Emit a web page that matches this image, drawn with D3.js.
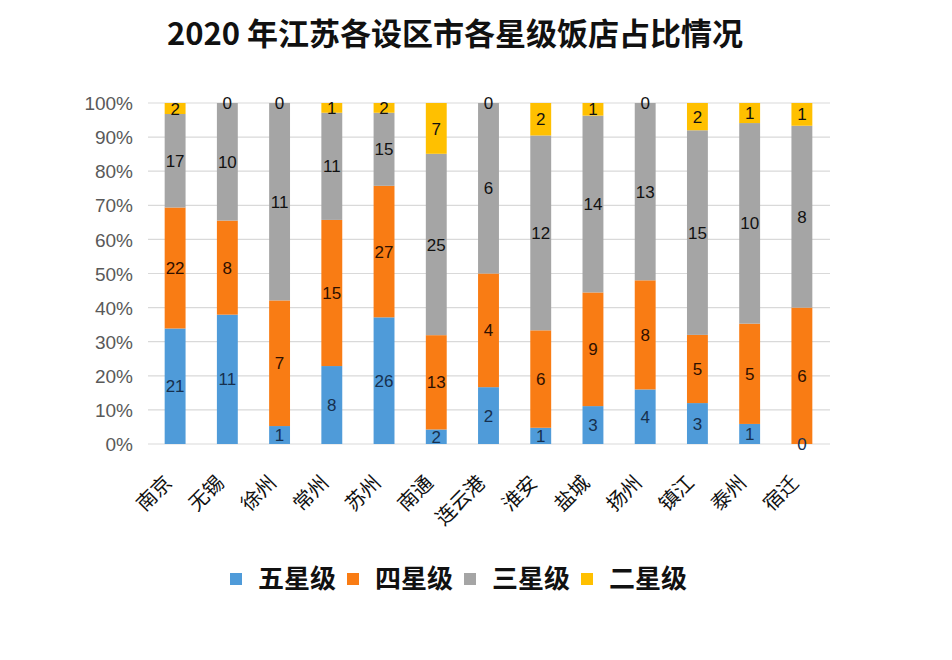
<!DOCTYPE html>
<html><head><meta charset="utf-8">
<script src="https://cdn.jsdelivr.net/npm/d3@7"></script>
<style>
html,body{margin:0;padding:0;background:#fff;}
svg{display:block;}
</style></head>
<body>
<svg id="chart" width="952" height="660"></svg>
<script>
const title = "2020 年江苏各设区市各星级饭店占比情况";
const cities = ["南京","无锡","徐州","常州","苏州","南通","连云港","淮安","盐城","扬州","镇江","泰州","宿迁"];
const seriesNames = ["五星级","四星级","三星级","二星级"];
const fiveStar  = [21,11,1,8,26,2,2,1,3,4,3,1,0];
const fourStar  = [22,8,7,15,27,13,4,6,9,8,5,5,6];
const threeStar = [17,10,11,11,15,25,6,12,14,13,15,10,8];
const twoStar   = [2,0,0,1,2,7,0,2,1,0,2,1,1];
const yTicks = [0,0.1,0.2,0.3,0.4,0.5,0.6,0.7,0.8,0.9,1.0];
const colors = ["#4F9BD9","#F97C14","#A5A5A5","#FFC000"];
const labelColors = ["#16304f","#2e1000","#111111","#111111"];

const seriesValues = [fiveStar, fourStar, threeStar, twoStar];
const svg = d3.select("#chart");

const x = d3.scaleBand().domain(cities).range([149, 828]).paddingInner(0.6).paddingOuter(0.3);
const y = d3.scaleLinear().domain([0, 1]).range([444, 103]);

// title
svg.append("text").attr("x", 455).attr("y", 45).attr("text-anchor", "middle")
  .attr("font-family", "'Noto Sans CJK SC', sans-serif").attr("font-weight", "bold")
  .attr("font-size", 31).attr("fill", "#111").text(title);

// gridlines
svg.append("g").selectAll("line").data(yTicks).join("line")
  .attr("x1", 148).attr("x2", 830)
  .attr("y1", d => y(d)).attr("y2", d => y(d))
  .attr("stroke", "#d9d9d9").attr("stroke-width", 1.2);

// y axis labels
const yAxis = d3.axisLeft(y).tickValues(yTicks).tickFormat(d => Math.round(d * 100) + "%").tickSize(0).tickPadding(0);
const yg = svg.append("g").attr("transform", "translate(133,0)").call(yAxis);
yg.select(".domain").remove();
yg.selectAll("text").attr("font-family", "'Liberation Sans', Arial, sans-serif")
  .attr("font-size", 19).attr("fill", "#595959").attr("dy", "0.35em");

// stacked data
const table = cities.map((c, i) => {
  const total = seriesValues.reduce((s, arr) => s + arr[i], 0);
  const row = {city: c};
  seriesNames.forEach((n, k) => { row[n] = seriesValues[k][i] / total; row[n + "_v"] = seriesValues[k][i]; });
  return row;
});
const stack = d3.stack().keys(seriesNames);
const stacked = stack(table);

const groups = svg.append("g").selectAll("g").data(stacked).join("g")
  .attr("fill", (d, k) => colors[k]);
groups.selectAll("rect").data(d => d).join("rect")
  .attr("x", d => x(d.data.city)).attr("width", x.bandwidth())
  .attr("y", d => y(d[1])).attr("height", d => y(d[0]) - y(d[1]));

// value labels
stacked.forEach((layer, k) => {
  svg.append("g").selectAll("text").data(layer).join("text")
    .attr("x", d => x(d.data.city) + x.bandwidth() / 2)
    .attr("y", d => y((d[0] + d[1]) / 2))
    .attr("dy", "0.36em").attr("text-anchor", "middle")
    .attr("font-family", "'Liberation Sans', Arial, sans-serif").attr("font-size", 17)
    .attr("fill", labelColors[k])
    .text(d => d.data[layer.key + "_v"]);
});

// x labels
svg.append("g").selectAll("text").data(cities).join("text")
  .attr("transform", d => `translate(${x(d) + x.bandwidth() / 2 - 2},484) rotate(-45)`)
  .attr("text-anchor", "end")
  .attr("font-family", "'Noto Sans CJK SC', sans-serif").attr("font-size", 20)
  .attr("fill", "#111").text(d => d);

// legend
const legendX = [230, 347, 464, 581];
const lg = svg.append("g").selectAll("g").data(seriesNames).join("g")
  .attr("transform", (d, i) => `translate(${legendX[i]},573)`);
lg.append("rect").attr("width", 12).attr("height", 12).attr("fill", (d, i) => colors[i]);
lg.append("text").attr("x", 28).attr("y", 6).attr("dy", "0.36em")
  .attr("font-family", "'Noto Sans CJK SC', sans-serif").attr("font-weight", "bold")
  .attr("font-size", 26).attr("fill", "#111").text(d => d);
</script>
</body></html>
